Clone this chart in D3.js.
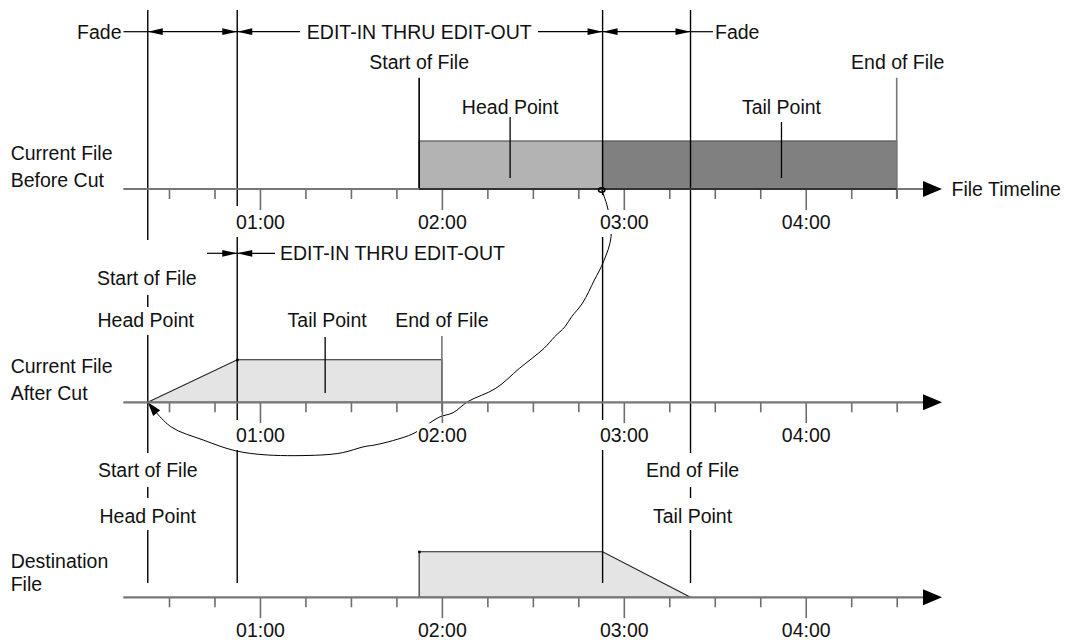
<!DOCTYPE html>
<html><head><meta charset="utf-8">
<script src="https://cdn.jsdelivr.net/npm/d3@7"></script>
<style>
body{margin:0;background:#fff}
svg{display:block}
text{font-family:"Liberation Sans",Arial,Helvetica,sans-serif;font-size:19.5px;fill:#111}
</style>
</head><body>
<svg id="c" width="1068" height="642"></svg>
<script>
// ---------- data (minutes on the file timeline) ----------
const tickMinutes = [30,45,60,75,90,105,120,135,150,165,180,195,210,225,240,255,270];
const majorMinutes = [60,120,180,240];
const tickLabels = ["01:00","02:00","03:00","04:00"];
const markerMinutes = [23, 52.5, 173, 202];          // fade start, edit-in, edit-out, fade end
const beforeCutSegments = [112.5, 173, 270];         // start of file, head/tail split, end of file
const beforeCutFills = ["#b3b3b3", "#808080"];
const beforeCutLabelMinutes = [142.5, 232];          // Head Point, Tail Point
const afterCutShape = [[23,0],[52.5,1],[120,1],[120,0]];
const afterCutTailMinute = 81.5;
const destShape = [[112.5,0],[112.5,1],[173,1],[202,0]];
const rowNames = [["Current File","Before Cut"],["Current File","After Cut"],["Destination","File"]];
const connectorMinutes = [172.7,174.6,175.8,173.3,170.3,166.4,162.8,160.6,157.2,153.7,145.6,137.8,128.5,123.7,119,110.8,103.7,97.8,94.3,87.2,80.1,62.5,51.8,41.3,30.6,23];
const connectorY = [190,207,236.7,261.7,280,303,316.7,326.7,336.7,348.3,368.3,388.3,401.7,412.7,417.3,433.3,440.7,445,446.7,452.7,455,455,450.7,440,426.7,402.3];

// ---------- layout ----------
const svg = d3.select("#c");
const x = d3.scaleLinear().domain([30,270]).range([169,896.7]);
const rows = [{y:189,h:48},{y:402.3,h:42.5},{y:597.3,h:45.6}];
const axisStart = 123.3, axisEnd = 942;

const gShapes = svg.append("g");
const gLines = svg.append("g");
const gCurve = svg.append("g");
const gAxes = svg.append("g");
const gText = svg.append("g");

// ---------- shapes ----------
const r0 = rows[0];
for (let i=0;i<beforeCutFills.length;i++){
  gShapes.append("rect")
    .attr("x", x(beforeCutSegments[i])).attr("y", r0.y - r0.h)
    .attr("width", x(beforeCutSegments[i+1]) - x(beforeCutSegments[i])).attr("height", r0.h)
    .attr("fill", beforeCutFills[i]).attr("stroke","#555").attr("stroke-width",1.2);
}
function shapePath(pts,row){
  return d3.line().x(d=>x(d[0])).y(d=>row.y - d[1]*row.h)(pts) + "Z";
}
gShapes.append("path").attr("d",shapePath(afterCutShape,rows[1]))
  .attr("fill","#e4e4e4").attr("stroke","#222").attr("stroke-width",1.1);
gShapes.append("path").attr("d",shapePath(destShape,rows[2]))
  .attr("fill","#e4e4e4").attr("stroke","#222").attr("stroke-width",1.1);

// ---------- connector curve (drawn under axes / tick labels) ----------
const curvePts = connectorMinutes.map((m,i)=>[x(m),connectorY[i]]);
const cpath = gCurve.append("path").attr("d",d3.line().curve(d3.curveCatmullRom.alpha(0.5))(curvePts))
  .attr("fill","none").attr("stroke","#000").attr("stroke-width",1);
{
  const node = cpath.node(), L = node.getTotalLength();
  const tip = node.getPointAtLength(L), back = node.getPointAtLength(L-12);
  const ang = Math.atan2(tip.y-back.y, tip.x-back.x)*180/Math.PI;
  gCurve.append("path").attr("d","M0,0 L-14,-4.5 L-14,4.5 Z").attr("fill","#000")
    .attr("transform",`translate(${tip.x},${tip.y}) rotate(${ang})`);
}

// ---------- axes ----------
rows.forEach((row,ri)=>{
  const ax = d3.axisBottom(x).tickValues(tickMinutes).tickSize(10).tickPadding(0)
    .tickFormat(d => { const k = majorMinutes.indexOf(d); return k>=0 ? tickLabels[k] : ""; });
  const g = gAxes.append("g").attr("transform",`translate(0,${row.y})`).call(ax);
  g.select(".domain").remove();
  g.selectAll(".tick line").attr("stroke","#6e6e6e").attr("stroke-width",1.6)
    .attr("y2", d => majorMinutes.includes(d) ? 21 : 10);
  g.selectAll(".tick text").attr("y", 40).attr("dy",0).attr("fill","#111")
    .style("font-family",'"Liberation Sans",Arial,sans-serif').style("font-size","19.5px");
  g.append("line").attr("x1",axisStart).attr("x2",axisEnd-18).attr("y1",0).attr("y2",0)
    .attr("stroke","#777").attr("stroke-width",2.2);
  g.append("path").attr("d",`M${axisEnd-19},-8 L${axisEnd},0 L${axisEnd-19},8 Z`).attr("fill","#000");
  g.selectAll(".tick").each(function(){
    const t = d3.select(this).select("text");
    if (!t.text()) return;
    const b = t.node().getBBox();
    d3.select(this).insert("rect","text").attr("x",b.x-1).attr("y",b.y-1)
      .attr("width",b.width+2).attr("height",b.height+2).attr("fill","#fff");
  });
});
gAxes.append("line").attr("x1",x(beforeCutSegments[0])).attr("x2",x(beforeCutSegments[2]))
  .attr("y1",r0.y).attr("y2",r0.y).attr("stroke","#333").attr("stroke-width",2);
// curve start handle
gAxes.append("ellipse").attr("cx",curvePts[0][0]).attr("cy",curvePts[0][1])
  .attr("rx",3.2).attr("ry",2.2).attr("fill","none").attr("stroke","#000").attr("stroke-width",1.5);

// ---------- vertical marker lines ----------
const markerSegs = [
  [[10,240],[295,307],[335,453],[487,498],[530,583]],
  [[10,206],[237,420],[450,583]],
  [[10,195],[237,420],[450,583]],
  [[10,453],[487,498],[530,583]]
];
markerMinutes.forEach((m,i)=>{
  markerSegs[i].forEach(s=>{
    gLines.append("line").attr("x1",x(m)).attr("x2",x(m)).attr("y1",s[0]).attr("y2",s[1])
      .attr("stroke","#000").attr("stroke-width",1.4);
  });
});
function vline(m,y1,y2,col,w){
  gLines.append("line").attr("x1",x(m)).attr("x2",x(m)).attr("y1",y1).attr("y2",y2)
    .attr("stroke",col).attr("stroke-width",w);
}
vline(beforeCutSegments[0],77.7,189,"#000",1.6);
vline(beforeCutLabelMinutes[0],117,178,"#000",1.3);
vline(beforeCutLabelMinutes[1],122,178,"#000",1.3);
vline(beforeCutSegments[2],77.7,199,"#777",1.6);
vline(afterCutShape[2][0],336,411.7,"#777",1.6);
vline(afterCutTailMinute,337,393,"#000",1.3);

// ---------- dimension arrows ----------
function arrowHead(tipX,y,dir){
  gText.append("path").attr("d",`M${tipX},${y} L${tipX-dir*15},${y-3.4} L${tipX-dir*15},${y+3.4} Z`).attr("fill","#000");
}
function hline(x1,x2,y){
  gText.append("line").attr("x1",x1).attr("x2",x2).attr("y1",y).attr("y2",y).attr("stroke","#000").attr("stroke-width",1.2);
}
const yTop = 31.7;
const xf1 = x(markerMinutes[0]), xe1 = x(markerMinutes[1]), xe2 = x(markerMinutes[2]), xf2 = x(markerMinutes[3]);
hline(123.5,xf1,yTop);
hline(xf1,xe1,yTop); arrowHead(xf1,yTop,-1); arrowHead(xe1,yTop,1);
hline(xe1,300,yTop); arrowHead(xe1,yTop,-1);
hline(538,xe2,yTop); arrowHead(xe2,yTop,1);
hline(xe2,xf2,yTop); arrowHead(xe2,yTop,-1); arrowHead(xf2,yTop,1);
hline(xf2,713,yTop);
const y2a = 253.3;
hline(207,xe1,y2a); arrowHead(xe1,y2a,1);
hline(xe1,275,y2a); arrowHead(xe1,y2a,-1);

// tiny corner dots
[[x(afterCutShape[1][0]),rows[1].y-rows[1].h],[x(destShape[1][0]),rows[2].y-rows[2].h]].forEach(p=>{
  gShapes.append("rect").attr("x",p[0]-1).attr("y",p[1]-1).attr("width",2.5).attr("height",2.5).attr("fill","#000");
});

// ---------- text ----------
function txt(s,xx,yy,anchor){
  gText.append("text").attr("x",xx).attr("y",yy).attr("text-anchor",anchor||"middle").text(s);
}
txt("Fade",121.5,38.5,"end");
txt("EDIT-IN THRU EDIT-OUT",419.3,38.5);
txt("Fade",715,38.5,"start");
txt("File Timeline",951.5,r0.y+7,"start");

const rowBaselines = [[159.5,187],[373,399.5],[567.5,591]];
rowNames.forEach((r,i)=>{
  txt(r[0],10.7,rowBaselines[i][0],"start");
  txt(r[1],10.7,rowBaselines[i][1],"start");
});
txt("Start of File",x(beforeCutSegments[0]),69);
txt("End of File",x(beforeCutSegments[2])+1,69);
txt("Head Point",x(beforeCutLabelMinutes[0]),114);
txt("Tail Point",x(beforeCutLabelMinutes[1]),114);

txt("EDIT-IN THRU EDIT-OUT",280,260,"start");
txt("Start of File",x(afterCutShape[0][0])-1,285);
txt("Head Point",x(afterCutShape[0][0])-2,327);
txt("Tail Point",x(afterCutTailMinute)+2,327);
txt("End of File",x(afterCutShape[2][0]),327);

txt("Start of File",x(markerMinutes[0]),477);
txt("Head Point",x(markerMinutes[0]),522.5);
txt("End of File",x(destShape[3][0])+2,477);
txt("Tail Point",x(destShape[3][0])+2,522.5);
</script>
</body></html>
